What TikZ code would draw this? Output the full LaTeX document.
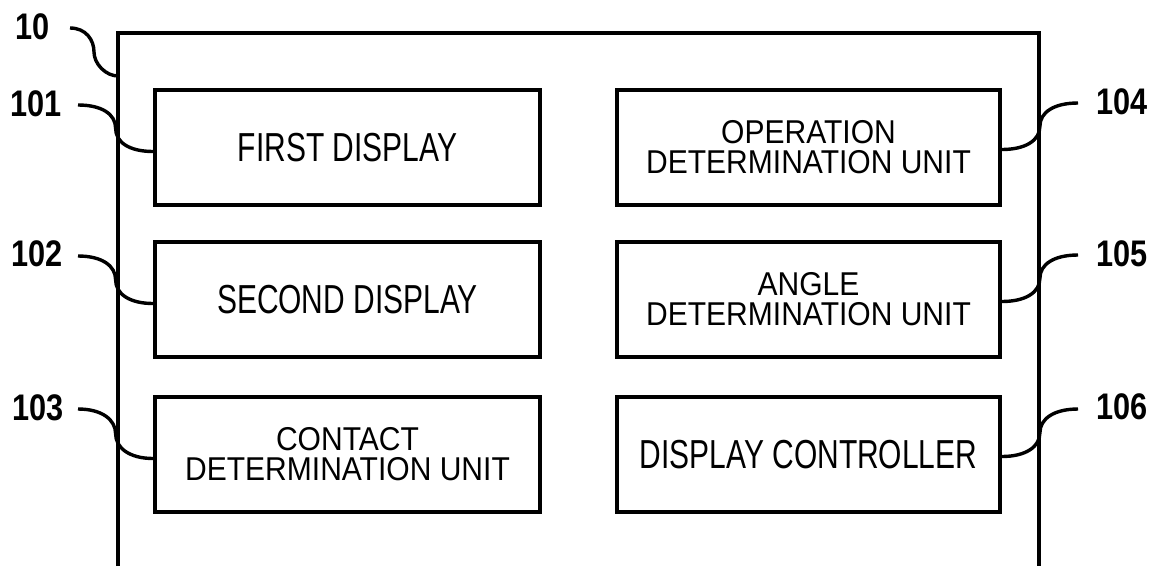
\documentclass[tikz,border=0pt]{standalone}
\usepackage{fontspec}
\usetikzlibrary{calc}
\newfontfamily\boxfont[FakeStretch=0.74]{Liberation Sans}
\newfontfamily\twofont[FakeStretch=0.91]{Liberation Sans}
\newfontfamily\labfont[FakeStretch=0.83]{Liberation Sans}
\begin{document}
\begin{tikzpicture}[x=1pt,y=-1pt,
  unitbox/.style={draw,line width=3.6pt,minimum width=383pt,minimum height=115pt,inner sep=0pt,align=center},
  onebox/.style={unitbox,font=\boxfont\fontsize{40.5}{44}\selectfont},
  twobox/.style={unitbox,font=\twofont\fontsize{33}{30}\selectfont},
  reflab/.style={inner sep=0pt,font=\labfont\bfseries\fontsize{37}{40}\selectfont},
  leader/.style={line width=3.4pt}]
\useasboundingbox (0,0) rectangle (1161,566);
% outer housing (open at the bottom)
\draw[line width=3.8pt] (118,566) -- (118,33) -- (1039,33) -- (1039,566);
% units
\node[onebox,minimum width=385pt] (b101) at (347.5,147.5) {FIRST DISPLAY};
\node[onebox,minimum width=385pt] (b102) at (347.5,299.5) {SECOND DISPLAY};
\node[twobox,minimum width=385pt] (b103) at (347.5,454.5) {CONTACT\\DETERMINATION UNIT};
\node[twobox] (b104) at (808.5,147.5) {OPERATION\\DETERMINATION UNIT};
\node[twobox] (b105) at (808.5,299.5) {ANGLE\\DETERMINATION UNIT};
\node[onebox] (b106) at (808.5,454.5) {DISPLAY CONTROLLER};
% reference labels
\node[reflab] (l10) at (33,27) {10};
\node[reflab] (l101) at (36,103.5) {101};
\node[reflab] (l102) at (37,253.5) {102};
\node[reflab] (l103) at (38,407.5) {103};
\node[reflab] (l104) at (1122,101.5) {104};
\node[reflab] (l105) at (1122,254) {105};
\node[reflab] (l106) at (1122,407) {106};
% leader start points
\coordinate (s10) at (70,28);
\coordinate (e10) at (118,76);
\coordinate (s101) at (78,105);
\coordinate (s102) at (78,256);
\coordinate (s103) at (78,409);
\coordinate (s104) at (1078,103);
\coordinate (s105) at (1078,255);
\coordinate (s106) at (1078,409);
% leaders
\draw[leader] (s10) .. controls +(16,0) and +(0,-12) .. ($(s10)!0.5!(e10)$)
  .. controls +(0,12) and +(-12,0) .. (e10);
\foreach \n in {101,102,103}{
  \draw[leader] (s\n) .. controls +(24,0) and +(0,-14) .. ($(s\n)!0.5!([yshift=-4pt]b\n.west)$)
    .. controls +(0,14) and +(-24,0) .. ([yshift=-4pt]b\n.west);
}
\foreach \n in {104,105,106}{
  \draw[leader] (s\n) .. controls +(-24,0) and +(0,-14) .. ($(s\n)!0.5!([yshift=-2pt]b\n.east)$)
    .. controls +(0,14) and +(24,0) .. ([yshift=-2pt]b\n.east);
}
\end{tikzpicture}
\end{document}
